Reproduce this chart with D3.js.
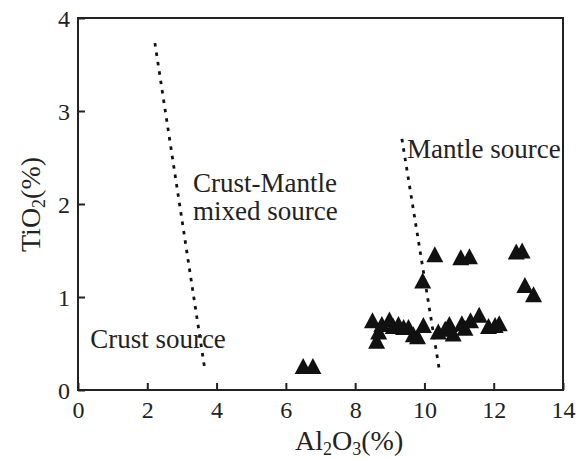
<!DOCTYPE html>
<html>
<head>
<meta charset="utf-8">
<script src="https://cdn.jsdelivr.net/npm/d3@7"></script>
<style>
body{margin:0;background:#fff;}
text{font-family:"Liberation Serif","Times New Roman",serif;fill:#222;}
</style>
</head>
<body>
<div id="content"></div>
<script>
// sample values (Al2O3 %, TiO2 %)
var al2o3 = [6.5,6.78,8.5,8.62,8.68,8.77,8.99,9.1,9.25,9.4,9.54,9.68,9.8,9.97,9.95,
	10.3,11.05,11.3,12.65,12.82,12.9,13.15,
	10.4,10.6,10.72,10.83,11.08,11.17,11.33,11.58,11.85,12.04,12.16];
var tio2 = [0.23,0.23,0.72,0.5,0.6,0.68,0.73,0.66,0.68,0.65,0.65,0.57,0.55,0.67,1.15,
	1.43,1.4,1.41,1.46,1.47,1.1,1.0,
	0.6,0.63,0.68,0.58,0.69,0.64,0.72,0.78,0.66,0.67,0.69];
var xTicks = [0,2,4,6,8,10,12,14];
var yTicks = [0,1,2,3,4];
// boundary lines
var line1 = [[2.22,3.73],[3.67,0.2]];
var line2 = [[9.35,2.70],[10.42,0.24]];
var labels = [
	{t:'Crust-Mantle', x:3.32, y:2.13},
	{t:'mixed source', x:3.32, y:1.83},
	{t:'Mantle source', x:9.5, y:2.49},
	{t:'Crust source', x:0.35, y:0.45}
];

var W = 585, H = 461;
var padL = 78, padR = 563, padT = 18, padB = 390;

var svg = d3.select('#content').append('svg')
	.attr('width', W).attr('height', H);

var x = d3.scaleLinear().domain([0,14]).range([padL,padR]);
var y = d3.scaleLinear().domain([0,4]).range([padB,padT]);

// frame
svg.append('rect')
	.attr('x', padL).attr('y', padT)
	.attr('width', padR-padL).attr('height', padB-padT)
	.attr('fill','none').attr('stroke','#222').attr('stroke-width',2);

var xAxis = svg.append('g').attr('transform','translate(0,'+padB+')')
	.call(d3.axisBottom(x).tickValues(xTicks).tickSize(-7).tickPadding(10).tickFormat(d3.format('d')));
var yAxis = svg.append('g').attr('transform','translate('+padL+',0)')
	.call(d3.axisLeft(y).tickValues(yTicks).tickSize(-7).tickPadding(8).tickFormat(d3.format('d')));
[xAxis,yAxis].forEach(function(a){
	a.select('.domain').remove();
	a.selectAll('line').attr('stroke','#222').attr('stroke-width',2);
	a.selectAll('text').style('font-family','"Liberation Serif",serif').style('font-size','24px').attr('fill','#222');
});
xAxis.selectAll('text').attr('dy','0.75em');
yAxis.selectAll('text').attr('dy','0.36em');

// dotted boundaries
var lineGen = d3.line().x(function(d){return x(d[0]);}).y(function(d){return y(d[1]);});
[line1,line2].forEach(function(l){
	svg.append('path').attr('d', lineGen(l))
		.attr('stroke','#111').attr('stroke-width',2.8)
		.attr('stroke-dasharray','3.5,6').attr('fill','none');
});

// triangles
var tw = 17, th = 16;
var pts = d3.range(al2o3.length).map(function(i){return [al2o3[i], tio2[i]];});
svg.append('g').selectAll('path').data(pts).enter().append('path')
	.attr('d', function(d){
		var cx = x(d[0]), cy = y(d[1]);
		return 'M'+cx+','+(cy-th*2/3)+'L'+(cx+tw/2)+','+(cy+th/3)+'L'+(cx-tw/2)+','+(cy+th/3)+'Z';
	})
	.attr('fill','#111');

// region labels
svg.append('g').selectAll('text').data(labels).enter().append('text')
	.attr('x', function(d){return x(d.x);})
	.attr('y', function(d){return y(d.y);})
	.style('font-size','27px')
	.text(function(d){return d.t;});

// axis titles
var xt = svg.append('text').attr('x', 295).attr('y', 450).style('font-size','28px');
xt.append('tspan').text('Al');
xt.append('tspan').text('2').style('font-size','18px').attr('dy','5');
xt.append('tspan').text('O').attr('dy','-5');
xt.append('tspan').text('3').style('font-size','18px').attr('dy','5');
xt.append('tspan').text('(%)').attr('dy','-5');

var yt = svg.append('text').attr('transform','translate(40,252) rotate(-90)').style('font-size','28px');
yt.append('tspan').text('TiO');
yt.append('tspan').text('2').style('font-size','18px').attr('dy','5');
yt.append('tspan').text('(%)').attr('dy','-5');
</script>
</body>
</html>
